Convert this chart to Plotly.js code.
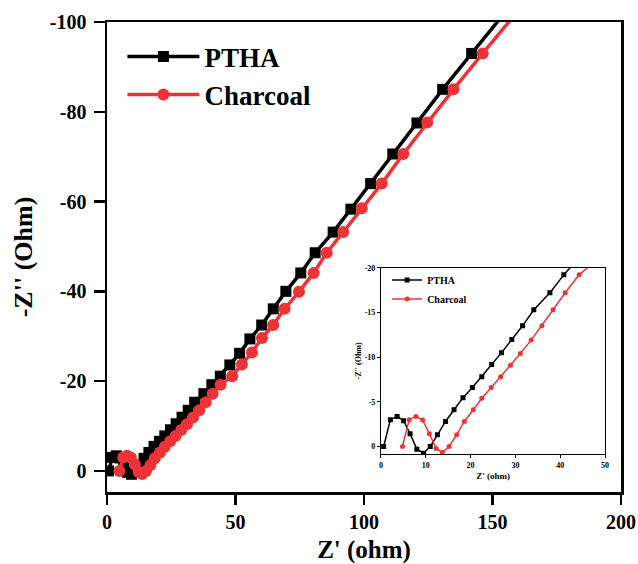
<!DOCTYPE html>
<html>
<head>
<meta charset="utf-8">
<script src="https://cdn.plot.ly/plotly-3.0.1.min.js"></script>
<style>html,body{margin:0;padding:0;background:#fff;}#chart{width:638px;height:564px;}</style>
</head>
<body>
<div id="chart"></div>
<script>
// PTHA impedance data (Z' in ohm, Z'' in ohm)
const pthaZre = [0.6, 2.1, 3.6, 5.05, 6.5, 8.0, 9.5, 11.0, 12.6, 14.4, 16.3, 18.3, 20.4, 22.5, 24.7, 26.9, 29.2, 31.6, 34.1, 37.7, 40.8, 44.1, 47.8, 51.6, 55.6, 60.2, 64.7, 69.6, 75.4, 81.0, 88.0, 94.9, 102.6, 111.2, 120.6, 130.6, 141.9, 154.0];
const pthaZim = [0, -3.0, -3.36, -2.88, -1.42, 0.3, 0.75, 0, -1.3, -2.8, -4.11, -5.46, -6.6, -7.8, -9.16, -10.5, -11.96, -13.5, -15.3, -17.2, -19.2, -21.1, -23.6, -26.2, -29.4, -32.5, -36.1, -40.0, -44.1, -48.6, -53.2, -58.3, -64.0, -70.6, -77.5, -85.0, -93.0, -101.5];
// Charcoal impedance data
const charZre = [4.8, 6.3, 7.8, 9.3, 10.8, 12.3, 13.7, 15.2, 16.9, 18.6, 20.6, 22.5, 24.6, 26.7, 28.9, 31.1, 33.5, 35.9, 38.4, 41.1, 44.2, 48.7, 52.5, 56.4, 60.3, 64.7, 69.1, 74.7, 80.4, 85.5, 91.9, 99.1, 106.9, 115.3, 124.6, 134.8, 146.2, 158.5];
const charZim = [0, -3.0, -3.36, -2.95, -1.42, 0.22, 0.67, 0, -1.3, -2.8, -4.1, -5.4, -6.6, -7.8, -9.1, -10.4, -11.9, -13.5, -15.3, -17.2, -19.2, -21.1, -23.7, -26.4, -29.6, -32.5, -36.1, -39.9, -44.1, -48.6, -53.2, -58.5, -64.0, -70.6, -77.6, -85.0, -93.0, -101.5];

const seriesNames = ['PTHA', 'Charcoal'];
const mainXTicks = [0, 50, 100, 150, 200];
const mainYTicks = [0, -20, -40, -60, -80, -100];
const insetXTicks = [0, 10, 20, 30, 40, 50];
const insetYTicks = [0, -5, -10, -15, -20];

const RED = '#ec3338';
const SERIF = '"Liberation Serif", "Times New Roman", serif';
const bold = (size) => ({family: SERIF, size: size, color: '#000', weight: 'bold'});

const traces = [
  {x: pthaZre, y: pthaZim, name: seriesNames[0], type: 'scatter', mode: 'lines+markers',
   line: {color: '#000', width: 3.5}, marker: {symbol: 'square', size: 11, color: '#000'},
   xaxis: 'x', yaxis: 'y', legend: 'legend', cliponaxis: true},
  {x: charZre, y: charZim, name: seriesNames[1], type: 'scatter', mode: 'lines+markers',
   line: {color: RED, width: 3.5}, marker: {symbol: 'circle', size: 12, color: RED},
   xaxis: 'x', yaxis: 'y', legend: 'legend', cliponaxis: true},
  {x: pthaZre, y: pthaZim, name: seriesNames[0], type: 'scatter', mode: 'lines+markers',
   line: {color: '#000', width: 1.5}, marker: {symbol: 'square', size: 5, color: '#000'},
   xaxis: 'x2', yaxis: 'y2', legend: 'legend2', cliponaxis: true},
  {x: charZre, y: charZim, name: seriesNames[1], type: 'scatter', mode: 'lines+markers',
   line: {color: RED, width: 1.5}, marker: {symbol: 'circle', size: 5, color: RED},
   xaxis: 'x2', yaxis: 'y2', legend: 'legend2', cliponaxis: true}
];

const layout = {
  width: 638, height: 564,
  margin: {l: 107, r: 17, t: 22, b: 72},
  paper_bgcolor: '#fff', plot_bgcolor: '#fff',
  showlegend: true,
  xaxis: {
    domain: [0, 1], range: [0, 200], tickvals: mainXTicks, ticktext: mainXTicks.map(String),
    showline: true, linecolor: '#000', linewidth: 2.5, mirror: true,
    ticks: 'outside', ticklen: 10, tickwidth: 2.5, tickcolor: '#000',
    showgrid: false, zeroline: false, tickfont: bold(20),
    title: {text: "Z' (ohm)", font: bold(25), standoff: 10}
  },
  yaxis: {
    domain: [0, 1], range: [4.7, -100], tickvals: mainYTicks, ticktext: mainYTicks.map(String),
    showline: true, linecolor: '#000', linewidth: 2.5, mirror: true,
    ticks: 'outside', ticklen: 11, tickwidth: 2.5, tickcolor: '#000',
    showgrid: false, zeroline: false, tickfont: bold(20), ticklabelstandoff: 3,
    title: {text: "-Z'' (Ohm)", font: bold(26), standoff: 10}
  },
  xaxis2: {
    domain: [0.533, 0.969], anchor: 'y2', range: [0, 50], tickvals: insetXTicks, ticktext: insetXTicks.map(String),
    showline: true, linecolor: '#000', linewidth: 1, mirror: true,
    ticks: 'outside', ticklen: 3, tickwidth: 1, tickcolor: '#000',
    showgrid: false, zeroline: false, tickfont: bold(8),
    title: {text: "Z' (ohm)", font: bold(9), standoff: 4}
  },
  yaxis2: {
    domain: [0.0809, 0.4772], anchor: 'x2', range: [0.84, -20], tickvals: insetYTicks, ticktext: insetYTicks.map(String),
    showline: true, linecolor: '#000', linewidth: 1, mirror: true,
    ticks: 'outside', ticklen: 3, tickwidth: 1, tickcolor: '#000',
    showgrid: false, zeroline: false, tickfont: bold(8),
    title: {text: "-Z'' (Ohm)", font: bold(8), standoff: 1}
  },
  legend: {
    x: 0.03, y: 0.978, xanchor: 'left', yanchor: 'top',
    bgcolor: 'rgba(0,0,0,0)', borderwidth: 0, font: bold(27),
    itemwidth: 72, tracegroupgap: 0
  },
  legend2: {
    x: 0.545, y: 0.482, xanchor: 'left', yanchor: 'top',
    bgcolor: 'rgba(0,0,0,0)', borderwidth: 0, font: bold(10),
    tracegroupgap: 0
  }
};

Plotly.newPlot('chart', traces, layout, {displayModeBar: false, staticPlot: true});
</script>
</body>
</html>
